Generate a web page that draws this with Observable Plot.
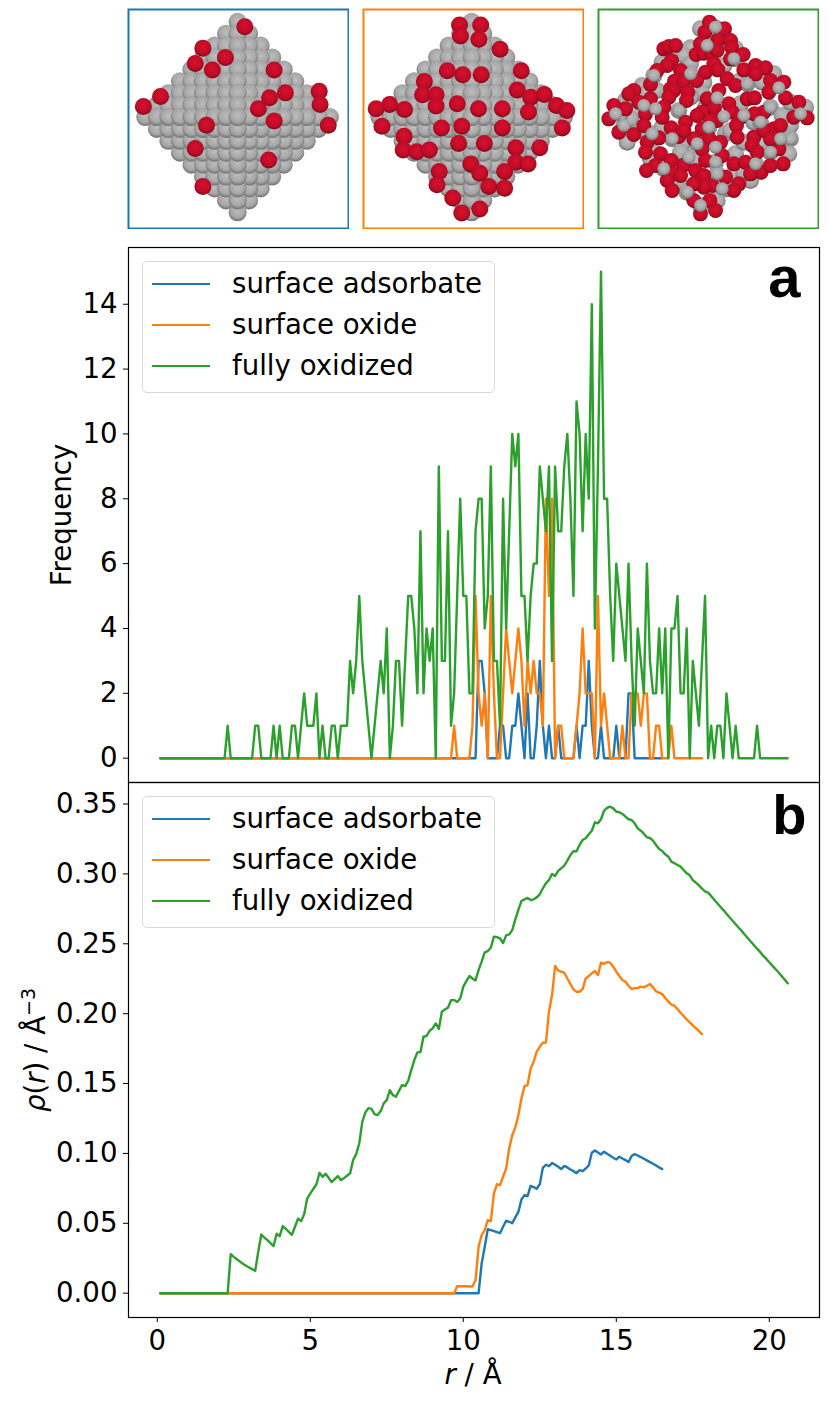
<!DOCTYPE html>
<html>
<head>
<meta charset="utf-8">
<script src="https://cdn.jsdelivr.net/npm/d3@7"></script>
<script src="https://cdn.jsdelivr.net/npm/@observablehq/plot@0.6"></script>
<style>
  body { margin: 0; background: white; font-family: "DejaVu Sans"; }
  #page { position: relative; width: 830px; height: 1404px; overflow: hidden; }
  #page svg { position: absolute; background: transparent; }
  .legend { position: absolute; left: 142px; width: 351px; height: 130px; border: 1px solid #d9d9d9; border-radius: 5px; background: rgba(255,255,255,0.8); }
  .legend div { position: absolute; left: 89px; font-size: 27.6px; line-height: 32px; white-space: nowrap; }
  .legend span { position: absolute; left: 9px; width: 58px; height: 2.4px; }
  .label { position: absolute; font-size: 27.6px; line-height: 32px; white-space: nowrap; transform: translate(-50%, -50%); }
  .label.up { transform: translate(-50%, -50%) rotate(-90deg); }
  sup { font-size: 19px; line-height: 0; }
</style>
</head>
<body>
<svg width="0" height="0" style="position:absolute">
  <defs>
    <radialGradient id="grayAtom" cx="0.5" cy="0.42" r="0.58">
      <stop offset="0" stop-color="#bdbdbd"/><stop offset="0.65" stop-color="#a6a6a6"/><stop offset="1" stop-color="#6f6f6f"/>
    </radialGradient>
    <radialGradient id="redAtom" cx="0.5" cy="0.42" r="0.58">
      <stop offset="0" stop-color="#d8102e"/><stop offset="0.7" stop-color="#bd0c26"/><stop offset="1" stop-color="#7e0818"/>
    </radialGradient>
  </defs>
</svg>
<div id="page"></div>
<script>
const names = ["surface adsorbate", "surface oxide", "fully oxidized"];
const colors = ["#1f77b4", "#ff7f0e", "#2ca02c"];
const zeros = n => Array(n).fill(0);

// panel a, counts per 0.1 A bin starting at r = 0.1
const freqAdsorbate = [...zeros(104), 3,3,2,0,0,0,0,1,1,0,0,1,1,2,1,0,2,0,0,1,3,1,0,1,0,0,1,0,0,0,0,0,1,0,1,1,3,1,0,0,1,0,0,0,0,1,0,0,0,2,2,...zeros(10)];
const freqOxide = [...zeros(96), 1,0,0,0,0,0,1,5,2,1,2,0,5,2,0,0,2,4,3,2,3,4,3,1,3,2,3,2,2,1,8,5,8,0,1,1,0,0,0,0,1,2,4,2,2,2,0,5,1,2,1,0,0,0,0,1,0,0,2,2,2,1,2,2,0,0,1,1,0,0,0,1,...zeros(10)];
const freqOxidized = [...zeros(22), 1,...zeros(8), 1,1,0,0,0,0,1,0,1,0,0,0,1,1,0,1,2,1,1,1,2,0,1,0,0,1,1,0,1,1,1,3,2,3,5,3,2,1,0,1,2,3,2,4,0,1,3,3,
  1,3,5,5,4,2,7,2,4,3,4,0,9,3,3,7,1,2,5,8,5,5,2,2,7,8,8,4,5,9,3,3,1,8,4,7,10,9,10,5,5,3,5,6,6,9,8,7,9,3,9,7,7,9,10,8,5,11,10,7,10,8,14,4,9,15,
  8,8,5,3,6,5,4,3,6,3,1,4,3,2,6,3,2,2,4,2,4,0,4,4,5,2,2,4,0,3,2,1,3,5,0,1,0,1,1,0,2,1,0,1,0,0,0,0,0,0,1,0,...zeros(9)];

// panel b, density on the same radial grid
const rhoAdsorbate = [...zeros(105),
  .0212,.0332,.0458,.0451,.0444,.0437,.0429,.0475,.0518,.0511,.0501,.0542,.0582,.0670,.0702,.0694,.0768,.0759,.0747,.0780,
  .0897,.0919,.0909,.0931,.0919,.0904,.0888,.0911,.0900,.0885,.0873,.0859,.0880,.0873,.0892,.0914,.1005,.1021,.1007,.0993,
  .1012,.0997,.0983,.0969,.0957,.0976,.0964,.0952,.0938,.0981,.0995,.0985,.0974,.0962,.0950,.0938,.0926,.0914,.0900,.0888];
const rhoOxide = [...zeros(97),
  .0050,.0050,.0050,.0050,.0048,.0048,.0093,.0332,.0415,.0451,.0523,.0515,.0713,.0780,.0773,.0833,.0892,.1036,.1131,.1186,
  .1274,.1393,.1482,.1489,.1608,.1656,.1728,.1763,.1792,.1794,.2014,.2133,.2341,.2310,.2300,.2293,.2252,.2212,.2174,.2157,
  .2157,.2176,.2252,.2269,.2288,.2305,.2276,.2365,.2357,.2369,.2365,.2336,.2300,.2269,.2241,.2229,.2200,.2176,.2183,.2183,
  .2193,.2188,.2200,.2212,.2188,.2159,.2150,.2140,.2112,.2088,.2064,.2057,.2033,.2007,.1983,.1959,.1938,.1916,.1897,.1875,.1854];
const rhoOxidized = [...zeros(23),
  .0279,.0260,.0243,.0227,.0210,.0196,.0184,.0172,.0160,.0296,.0420,.0398,.0379,.0358,.0336,.0425,.0408,.0480,.0461,.0439,
  .0418,.0475,.0534,.0515,.0565,.0678,.0713,.0747,.0778,.0861,.0833,.0854,.0826,.0795,.0816,.0838,.0809,.0823,.0840,.0857,
  .0952,.0995,.1071,.1226,.1293,.1324,.1319,.1281,.1274,.1303,.1358,.1382,.1453,.1417,.1405,.1448,.1489,.1482,.1520,.1596,
  .1668,.1723,.1725,.1835,.1840,.1878,.1895,.1930,.1890,.2014,.2031,.2042,.2097,.2097,.2083,.2109,.2193,.2233,.2269,.2252,
  .2238,.2312,.2372,.2439,.2448,.2472,.2551,.2548,.2539,.2505,.2560,.2567,.2598,.2675,.2742,.2806,.2818,.2828,.2813,.2818,
  .2832,.2854,.2897,.2932,.2956,.2999,.2985,.3021,.3040,.3059,.3095,.3135,.3162,.3162,.3207,.3243,.3255,.3283,.3309,.3369,
  .3362,.3391,.3453,.3472,.3481,.3469,.3446,.3441,.3429,.3410,.3391,.3386,.3362,.3326,.3309,.3288,.3262,.3257,.3238,.3207,
  .3178,.3164,.3140,.3123,.3088,.3076,.3064,.3052,.3028,.3004,.2990,.2956,.2937,.2918,.2894,.2875,.2866,.2842,.2815,.2790,
  .2765,.2741,.2715,.2690,.2665,.2640,.2615,.2592,.2565,.2540,.2515,.2490,.2465,.2442,.2415,.2392,.2368,.2344,.2320,.2296,.2270,.2245,.2217];

const xTicks = [0, 5, 10, 15, 20];
const freqTicks = [0, 2, 4, 6, 8, 10, 12, 14];
const rhoTicks = [0, 0.05, 0.1, 0.15, 0.2, 0.25, 0.3, 0.35];

// atoms of the three renderings in crop coordinates
const rowCounts = [1,3,5,7,9,11,13,15,17,15,13,11,9,7,5,3,1];
const redAtomsA = [[275,77],[182,142],[165,188],[232,170],[203,208],[340,208],[88,288],[330,292],[365,277],[440,272],[442,312],[305,325],[340,362],[190,375],[460,375],[50,318],[165,445],[328,480],[182,560]];
const redAtomsB = [[750,72],[797,72],[752,105],[793,115],[840,145],[723,210],[757,222],[798,222],[887,210],[672,243],[668,283],[698,283],[878,268],[908,290],[938,282],[595,312],[565,325],[965,315],[988,330],[628,327],[698,317],[745,310],[792,325],[845,325],[903,335],[578,378],[710,383],[755,378],[845,383],[978,383],[627,408],[748,430],[805,430],[625,450],[655,455],[683,450],[875,443],[928,443],[775,492],[875,487],[902,492],[705,515],[795,520],[850,515],[700,555],[815,560],[850,565],[735,595],[795,628],[755,640]];
const grayAtomsC = [[345,52],[300,55],[330,85],[375,85],[270,112],[250,135],[320,105],[405,115],[400,145],[370,165],[270,160],[185,155],[160,195],[420,210],[440,220],[485,215],[520,190],[270,190],[310,215],[240,205],[125,225],[135,250],[170,240],[130,285],[100,305],[75,270],[70,345],[90,325],[315,290],[305,250],[235,300],[430,315],[460,335],[510,290],[545,315],[570,275],[615,290],[570,345],[480,335],[155,370],[120,360],[80,395],[215,385],[185,350],[245,400],[290,400],[325,350],[375,370],[540,385],[570,385],[565,430],[510,425],[405,430],[430,395],[480,400],[160,425],[265,440],[240,425],[345,455],[290,450],[190,475],[235,515],[465,460],[400,490],[450,510],[350,490],[380,535],[260,545],[305,510],[365,535],[300,585],[350,570],[430,490],[60,310],[150,445],[270,260],[420,280],[390,360]];
const redAtomsC = [[327,35],[372,55],[313,65],[300,100],[352,88],[390,90],[393,110],[428,132],[190,115],[205,108],[225,105],[213,150],[200,165],[287,132],[310,128],[333,128],[350,120],[390,145],[340,160],[352,178],[315,185],[430,178],[465,165],[495,172],[170,180],[240,180],[222,212],[250,212],[288,210],[380,205],[405,225],[465,190],[510,210],[550,215],[505,245],[555,262],[150,222],[100,240],[85,250],[210,235],[220,240],[205,260],[262,245],[258,270],[150,265],[115,275],[190,290],[135,310],[320,265],[355,240],[342,292],[305,305],[385,280],[395,305],[350,330],[330,330],[255,335],[290,315],[440,265],[462,262],[490,305],[462,310],[520,355],[420,320],[408,345],[40,285],[75,295],[25,325],[55,365],[100,372],[130,345],[212,352],[175,382],[235,378],[185,320],[305,355],[325,382],[280,385],[305,415],[140,395],[135,425],[180,430],[212,450],[250,360],[360,395],[410,380],[460,380],[455,405],[490,360],[535,415],[510,385],[580,320],[620,322],[595,275],[540,345],[365,435],[315,450],[400,460],[470,425],[435,455],[548,460],[482,485],[510,465],[165,465],[138,480],[248,465],[215,490],[200,510],[215,540],[240,495],[285,480],[310,495],[375,500],[335,525],[310,530],[415,520],[280,570],[328,570],[345,600],[300,610],[400,540],[280,520],[450,490]];
const frontAtomsC = [[165,295],[350,262],[370,318],[45,310],[600,310],[535,232],[345,410],[345,50],[160,195],[440,220],[300,585],[345,455],[570,385],[70,345],[215,385],[430,315],[270,190],[510,290],[365,535],[465,460],[130,285],[235,300],[290,400],[325,350],[480,335],[510,425],[265,440],[190,475],[350,490],[260,545],[400,145],[320,105],[540,385],[155,370]];

const page = document.getElementById("page");

function place(node, left, top) {
  node.style.left = left + "px";
  node.style.top = top + "px";
  page.append(node);
}

// octahedron seen from the side: rows of atoms, the middle ones in front
function lattice(cx) {
  const atoms = rowCounts.flatMap((n, j) => d3.range(n).map(k => {
    const col = k - (n - 1) / 2;
    const row = j - 8;
    return {x: cx + col * 25.6, y: 350 + row * 36, depth: Math.abs(col) + Math.abs(row)};
  }));
  return d3.sort(atoms, d => -d.depth);
}

function inset(xDomain, yDomain, color, marks) {
  return Plot.plot({
    width: 222,
    height: 221,
    margin: 1,
    x: {domain: xDomain, axis: null},
    y: {domain: yDomain, axis: null},
    marks: [...marks, Plot.frame({stroke: color, strokeWidth: 2})]
  });
}

const atomDot = (data, fill, r) => Plot.dot(data, {x: d => d.x ?? d[0], y: d => d.y ?? d[1], r, fill});

place(inset([17, 505], [687, 25], colors[0], [
  atomDot(lattice(259), "url(#grayAtom)", 9),
  atomDot(redAtomsA, "url(#redAtom)", 8.5)
]), 127, 8);
place(inset([537, 1025], [687, 25], colors[1], [
  atomDot(lattice(777), "url(#grayAtom)", 9),
  atomDot(redAtomsB, "url(#redAtom)", 8.5)
]), 362, 8);
place(inset([-6, 654], [654, -3], colors[2], [
  atomDot(grayAtomsC, "url(#grayAtom)", 8.5),
  atomDot(redAtomsC, "url(#redAtom)", 7.5),
  atomDot(frontAtomsC, "url(#grayAtom)", 6.5)
]), 597, 8);

function table(values) {
  return values.map((v, i) => ({r: (i + 1) / 10, v}));
}

function lines(series) {
  return series.map((values, i) => Plot.line(table(values), {x: "r", y: "v", stroke: colors[i], strokeWidth: 2.4}));
}

function panelLetter(letter, dx, dy, size) {
  return Plot.text([letter], {frameAnchor: "top-right", dx, dy, text: d => d, fontSize: size, fontWeight: "bold", fontFamily: "Liberation Sans", fill: "black"});
}

const chartA = Plot.plot({
  width: 830,
  height: 544,
  marginLeft: 128,
  marginRight: 11,
  marginTop: 7,
  marginBottom: 2,
  style: {fontFamily: "DejaVu Sans", overflow: "visible"},
  x: {domain: [-0.94, 21.64], axis: null},
  y: {domain: [-0.75, 15.75]},
  marks: [
    ...lines([freqAdsorbate, freqOxide, freqOxidized]),
    Plot.axisY({ticks: freqTicks, tickSize: 5, tickPadding: 6, fontSize: 27.6, label: null, stroke: "black", fill: "black"}),
    panelLetter("a", -19, 8, 58),
    Plot.frame({stroke: "black", strokeWidth: 1.2})
  ]
});
place(chartA, 0, 240);

const chartB = Plot.plot({
  width: 830,
  height: 629,
  marginLeft: 128,
  marginRight: 11,
  marginTop: 7,
  marginBottom: 87,
  style: {fontFamily: "DejaVu Sans", overflow: "visible"},
  x: {domain: [-0.94, 21.64]},
  y: {domain: [-0.0174, 0.3654]},
  marks: [
    ...lines([rhoAdsorbate, rhoOxide, rhoOxidized]),
    Plot.axisY({ticks: rhoTicks, tickFormat: d3.format(".2f"), tickSize: 5, tickPadding: 6, fontSize: 27.6, label: null, stroke: "black", fill: "black"}),
    Plot.axisX({ticks: xTicks, tickSize: 5, tickPadding: 8, fontSize: 27.6, label: null, stroke: "black", fill: "black"}),
    panelLetter("b", -13, 12, 56),
    Plot.frame({stroke: "black", strokeWidth: 1.2})
  ]
});
place(chartB, 0, 775);

function legend(top) {
  const box = document.createElement("div");
  box.className = "legend";
  box.style.top = top + "px";
  names.forEach((name, i) => {
    const text = document.createElement("div");
    text.textContent = name;
    text.style.top = (6 + i * 41) + "px";
    const swatch = document.createElement("span");
    swatch.style.top = (21 + i * 41) + "px";
    swatch.style.background = colors[i];
    box.append(swatch, text);
  });
  page.append(box);
}
legend(261);
legend(796);

function label(html, left, top, up) {
  const el = document.createElement("div");
  el.className = up ? "label up" : "label";
  el.innerHTML = html;
  el.style.left = left + "px";
  el.style.top = top + "px";
  page.append(el);
}
label("Frequency", 62, 515, true);
label("<i>ρ</i>(<i>r</i>) / Å<sup>−3</sup>", 36, 1050, true);
label("<i>r</i> / Å", 473, 1375, false);
</script>
</body>
</html>
